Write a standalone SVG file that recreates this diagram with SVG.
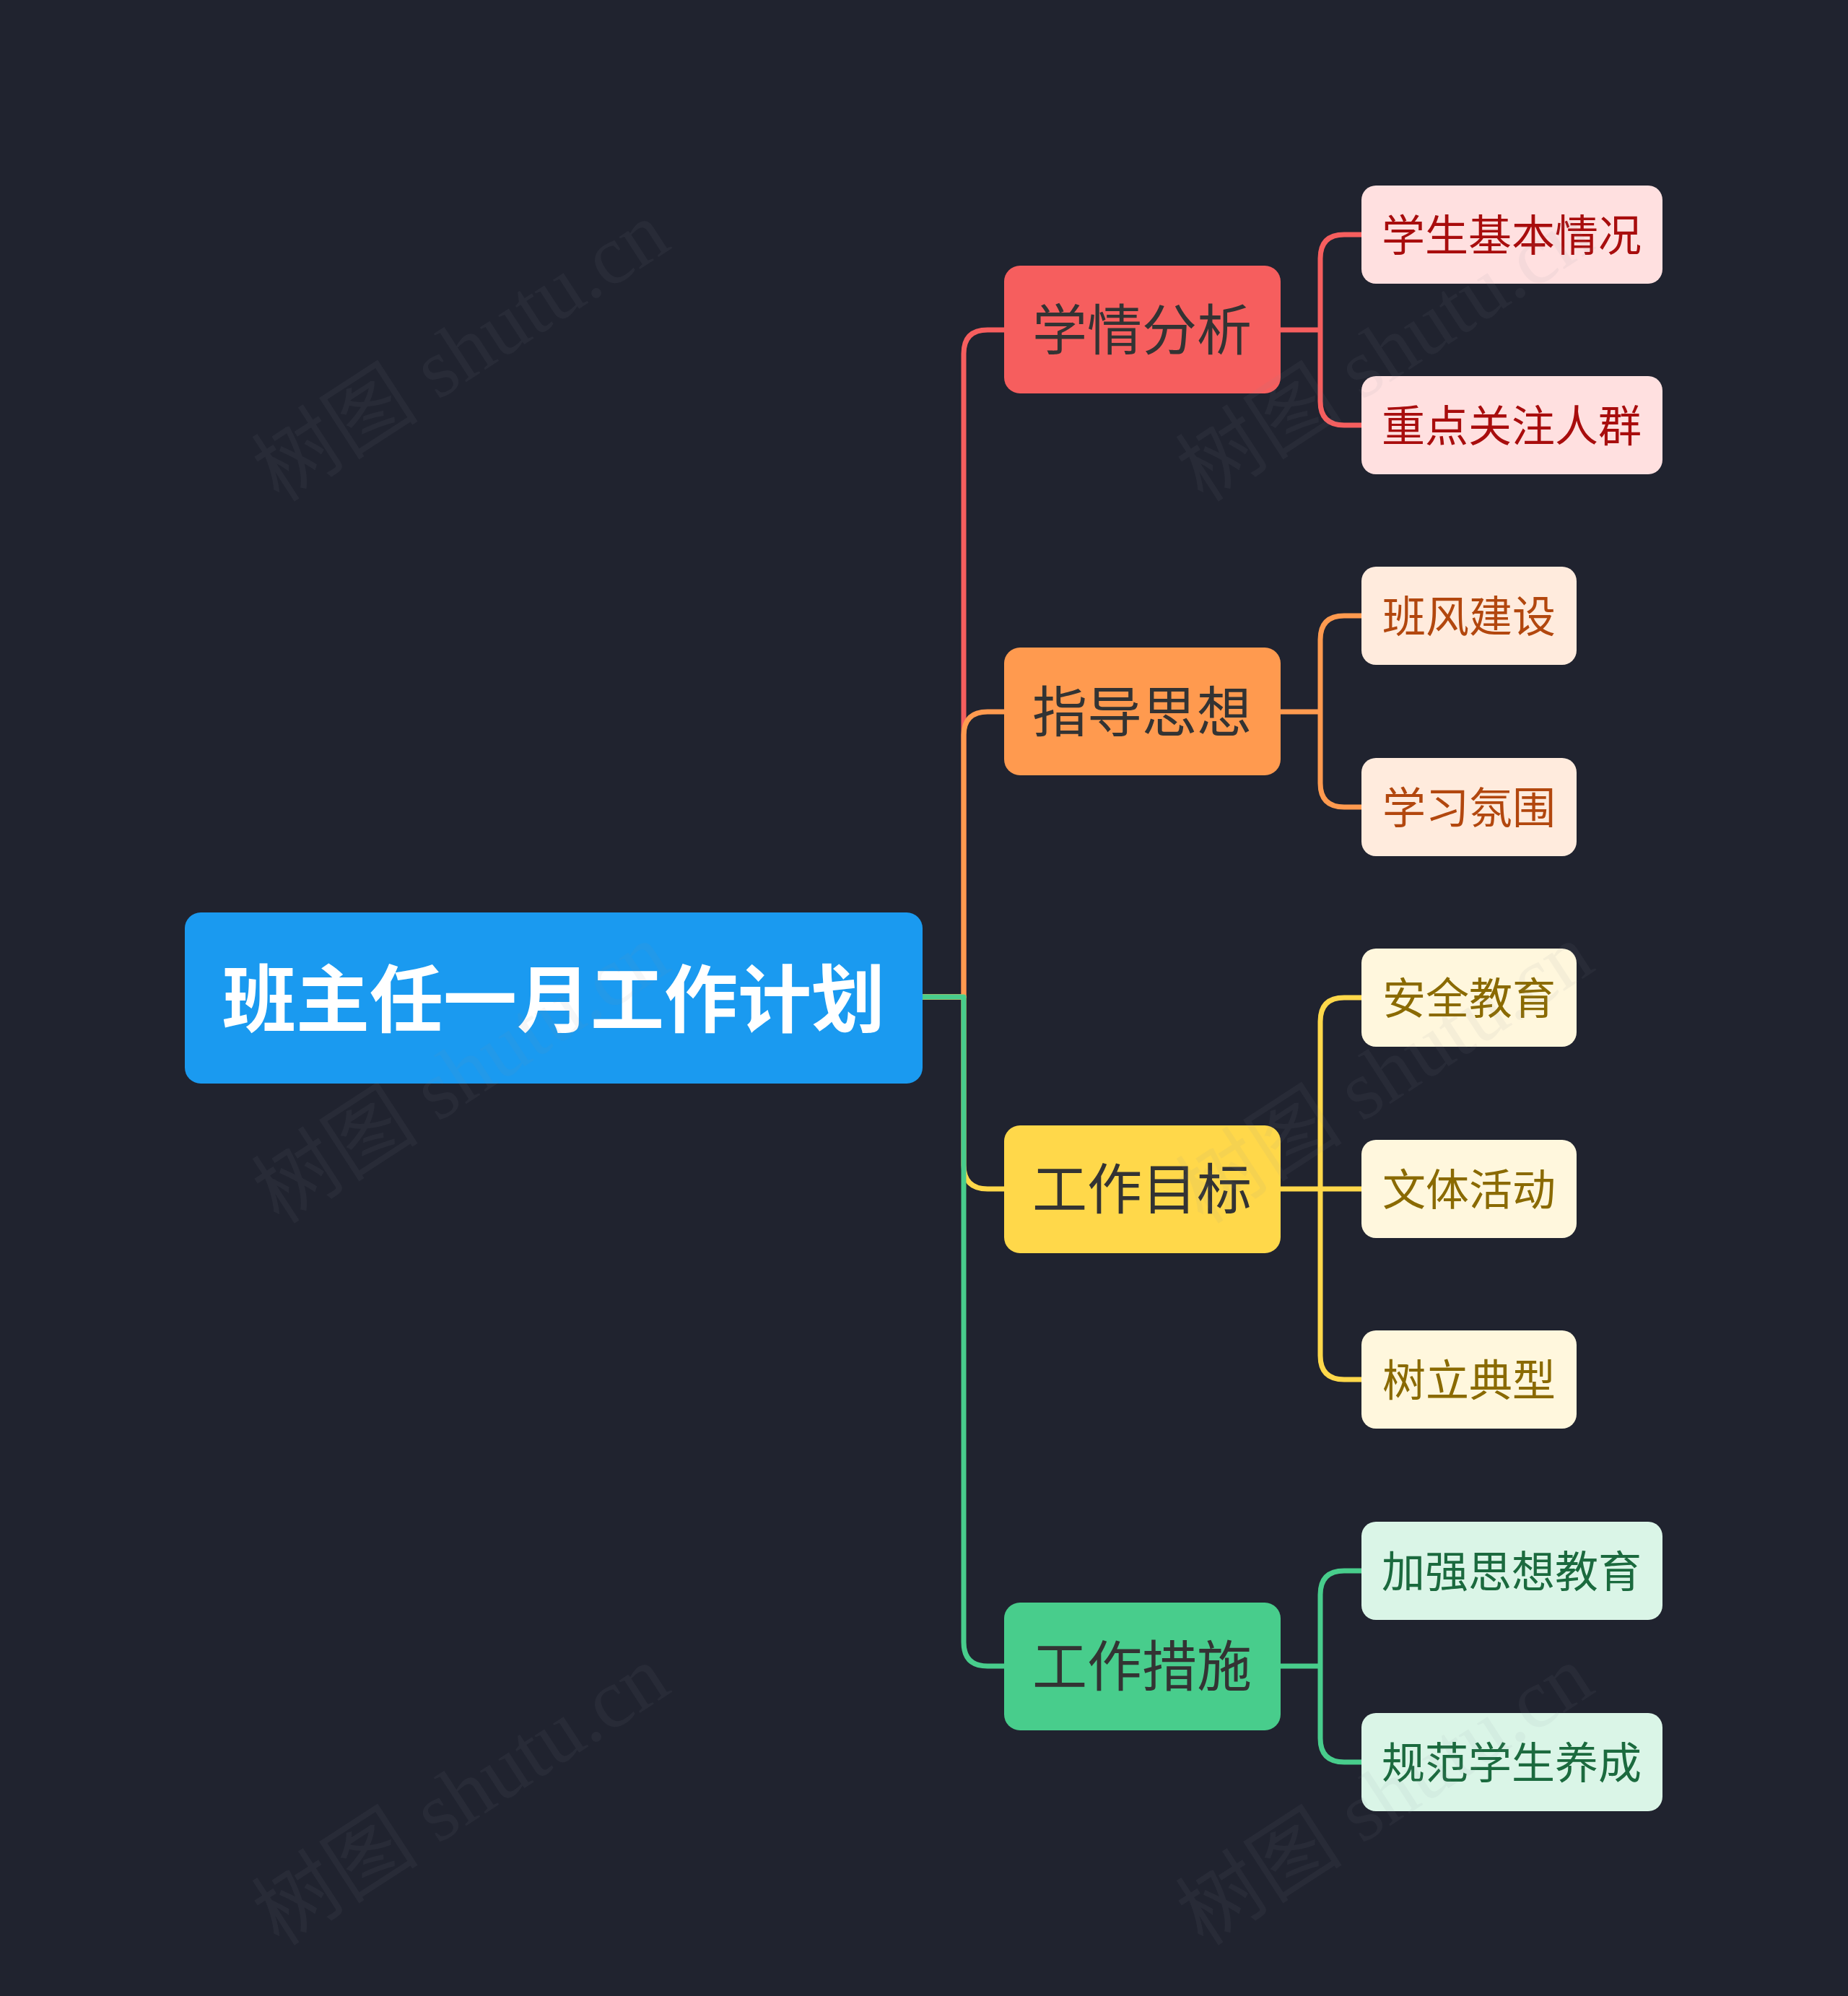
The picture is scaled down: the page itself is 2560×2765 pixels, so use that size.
<svg xmlns="http://www.w3.org/2000/svg" width="2560" height="2765" viewBox="0 0 2560 2765">
<style>
.bg{fill:#20232f}
.c{fill:none;stroke-width:7;stroke-linecap:round;stroke-linejoin:round}
.t{font-family:"Noto Sans CJK SC","Noto Sans",sans-serif;text-anchor:middle;dominant-baseline:central}
.l1{font-size:76px;fill:#333333}
.l2{font-size:60px}
.wm{font-family:"Liberation Serif","Noto Sans CJK SC",serif;font-size:116px;fill:#8a8f9c;opacity:0.075}
</style>
<rect class="bg" x="0" y="0" width="2560" height="2765"/>
<g id="connectors">
<path class="c" stroke="#f65e5e" d="M1278 1381 H1335 V490 Q1335 457 1368 457 H1391"/>
<path class="c" stroke="#ff9a4f" d="M1278 1381 H1335 V1019 Q1335 986 1368 986 H1391"/>
<path class="c" stroke="#ffd84a" d="M1278 1381 H1335 V1614 Q1335 1647 1368 1647 H1391"/>
<path class="c" stroke="#48cd8c" d="M1278 1381 H1335 V2275 Q1335 2308 1368 2308 H1391"/>
<path class="c" stroke="#f65e5e" d="M1774 457 H1829 V358 Q1829 325 1862 325 H1886 M1774 457 H1829 V556 Q1829 589 1862 589 H1886"/>
<path class="c" stroke="#ff9a4f" d="M1774 986 H1829 V886 Q1829 853 1862 853 H1886 M1774 986 H1829 V1085 Q1829 1118 1862 1118 H1886"/>
<path class="c" stroke="#ffd84a" d="M1774 1647 H1829 V1415 Q1829 1382 1862 1382 H1886 M1774 1647 H1886 M1829 1647 V1878 Q1829 1911 1862 1911 H1886"/>
<path class="c" stroke="#48cd8c" d="M1774 2308 H1829 V2209 Q1829 2176 1862 2176 H1886 M1774 2308 H1829 V2408 Q1829 2441 1862 2441 H1886"/>
</g>
<g id="root">
<rect x="256" y="1264" width="1022" height="237" rx="22" fill="#1a9af0"/>
<text class="t" x="767" y="1377" font-size="102" font-weight="bold" fill="#ffffff">班主任一月工作计划</text>
</g>
<g id="n1">
<rect x="1391" y="368" width="383" height="177" rx="22" fill="#f65e5e"/>
<text class="t l1" x="1582" y="452">学情分析</text>
</g>
<g id="n2">
<rect x="1391" y="897" width="383" height="177" rx="22" fill="#ff9a4f"/>
<text class="t l1" x="1582" y="981">指导思想</text>
</g>
<g id="n3">
<rect x="1391" y="1559" width="383" height="177" rx="22" fill="#ffd84a"/>
<text class="t l1" x="1582" y="1642">工作目标</text>
</g>
<g id="n4">
<rect x="1391" y="2220" width="383" height="177" rx="22" fill="#48cd8c"/>
<text class="t l1" x="1582" y="2303">工作措施</text>
</g>
<g id="n1a">
<rect x="1886" y="257" width="417" height="136" rx="20" fill="#ffe0e0"/>
<text class="t l2" x="2094" y="321" fill="#a80d0d">学生基本情况</text>
</g>
<g id="n1b">
<rect x="1886" y="521" width="417" height="136" rx="20" fill="#ffe0e0"/>
<text class="t l2" x="2094" y="585" fill="#a80d0d">重点关注人群</text>
</g>
<g id="n2a">
<rect x="1886" y="785" width="298" height="136" rx="20" fill="#ffebdd"/>
<text class="t l2" x="2035" y="849" fill="#b2470e">班风建设</text>
</g>
<g id="n2b">
<rect x="1886" y="1050" width="298" height="136" rx="20" fill="#ffebdd"/>
<text class="t l2" x="2035" y="1114" fill="#b2470e">学习氛围</text>
</g>
<g id="n3a">
<rect x="1886" y="1314" width="298" height="136" rx="20" fill="#fff7dd"/>
<text class="t l2" x="2035" y="1378" fill="#8a6a00">安全教育</text>
</g>
<g id="n3b">
<rect x="1886" y="1579" width="298" height="136" rx="20" fill="#fff7dd"/>
<text class="t l2" x="2035" y="1643" fill="#8a6a00">文体活动</text>
</g>
<g id="n3c">
<rect x="1886" y="1843" width="298" height="136" rx="20" fill="#fff7dd"/>
<text class="t l2" x="2035" y="1907" fill="#8a6a00">树立典型</text>
</g>
<g id="n4a">
<rect x="1886" y="2108" width="417" height="136" rx="20" fill="#daf5e7"/>
<text class="t l2" x="2094" y="2172" fill="#1b6a3e">加强思想教育</text>
</g>
<g id="n4b">
<rect x="1886" y="2373" width="417" height="136" rx="20" fill="#daf5e7"/>
<text class="t l2" x="2094" y="2437" fill="#1b6a3e">规范学生养成</text>
</g>
<g id="watermark">
<text class="wm" text-anchor="middle" transform="translate(660 520) rotate(-33)">树图 shutu.cn</text>
<text class="wm" text-anchor="middle" transform="translate(1940 520) rotate(-33)">树图 shutu.cn</text>
<text class="wm" text-anchor="middle" transform="translate(660 1520) rotate(-33)">树图 shutu.cn</text>
<text class="wm" text-anchor="middle" transform="translate(1940 1520) rotate(-33)">树图 shutu.cn</text>
<text class="wm" text-anchor="middle" transform="translate(660 2520) rotate(-33)">树图 shutu.cn</text>
<text class="wm" text-anchor="middle" transform="translate(1940 2520) rotate(-33)">树图 shutu.cn</text>
</g>
</svg>
